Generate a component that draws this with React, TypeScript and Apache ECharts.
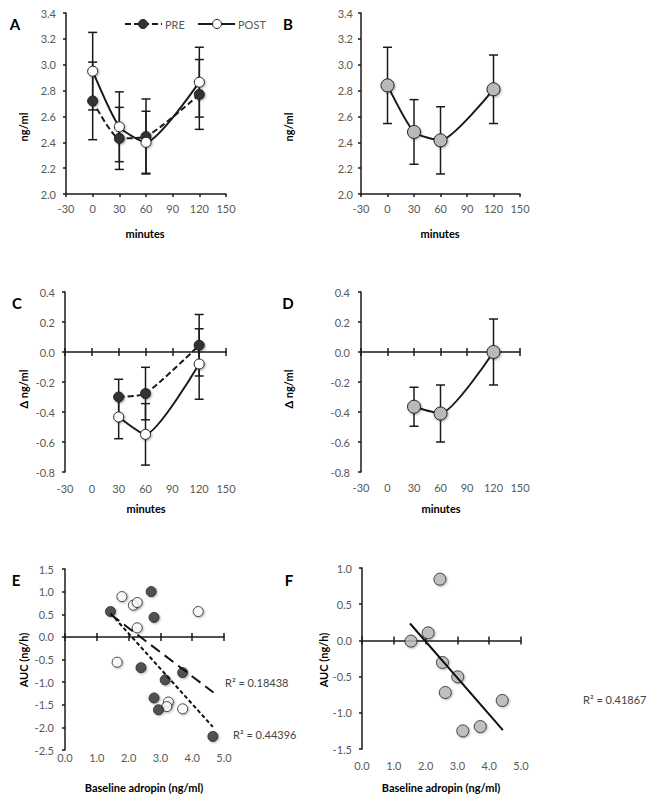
import React, { useEffect, useRef } from 'react';
import * as echarts from 'echarts';

// ---------- data ----------
const minutesA = [0, 30, 60, 120];
const preMeanA = [2.72, 2.43, 2.445, 2.77];
const preErrA = [0.3, 0.24, 0.29, 0.27];
const postMeanA = [2.95, 2.52, 2.4, 2.865];
const postErrA = [0.3, 0.27, 0.24, 0.27];

const meanB = [2.84, 2.48, 2.415, 2.81];
const errB = [0.295, 0.25, 0.26, 0.265];

const minutesC = [30, 60, 120];
const preMeanC = [-0.3, -0.277, 0.045];
const preErrC = [0.118, 0.175, 0.205];
const postMeanC = [-0.433, -0.549, -0.08];
const postErrC = [0.145, 0.205, 0.235];

const meanD = [-0.365, -0.41, 0.0];
const errD = [0.13, 0.19, 0.22];

const preAdropinE = [1.43, 2.71, 2.8, 2.39, 3.15, 3.7, 2.8, 2.94, 4.65];
const preAucE = [0.56, 1.0, 0.43, -0.68, -0.95, -0.79, -1.35, -1.61, -2.2];
const postAdropinE = [1.79, 2.15, 2.27, 2.27, 4.19, 1.64, 3.25, 3.2, 3.7];
const postAucE = [0.89, 0.7, 0.76, 0.2, 0.56, -0.56, -1.44, -1.54, -1.59];
const trendPreX = [1.43, 4.65];
const trendPreY = [0.52, -1.99];
const trendPostX = [1.43, 4.67];
const trendPostY = [0.5, -1.23];

const adropinF = [2.45, 2.08, 1.54, 2.53, 3.01, 2.62, 4.41, 3.72, 3.17];
const aucF = [0.845, 0.104, -0.01, -0.305, -0.503, -0.72, -0.83, -1.19, -1.25];
const trendFX = [1.51, 4.43];
const trendFY = [0.233, -1.24];

const r2PreE = 'R² = 0.44396';
const r2PostE = 'R² = 0.18438';
const r2F = 'R² = 0.41867';

const minuteTicks = { min: -30, max: 150, interval: 30 };
const aucTicks = { min: 0, max: 5, interval: 1 };

// ---------- styles ----------
const FONT = 'Lato, "Open Sans", sans-serif';
const AXIS = '#1a1a1a';
const LABEL = '#595959';
const DARK = '#333333';
const GRAY = '#b9b9b9';
const SMOOTH = 0.2;

const shadow = { shadowBlur: 2, shadowOffsetX: 1, shadowOffsetY: 1, shadowColor: 'rgba(0,0,0,0.35)' };

const errRender = (params: any, api: any) => {
  const x = api.value(0);
  const lo = api.coord([x, api.value(1)]);
  const hi = api.coord([x, api.value(2)]);
  const w = 4.5;
  const st = { stroke: AXIS, lineWidth: 1.5 };
  return {
    type: 'group',
    children: [
      { type: 'line', shape: { x1: lo[0], y1: lo[1], x2: hi[0], y2: hi[1] }, style: st },
      { type: 'line', shape: { x1: hi[0] - w, y1: hi[1], x2: hi[0] + w, y2: hi[1] }, style: st },
      { type: 'line', shape: { x1: lo[0] - w, y1: lo[1], x2: lo[0] + w, y2: lo[1] }, style: st },
    ],
  };
};

const errSeries = (xs: number[], m: number[], e: number[], xi: number, yi: number) => ({
  type: 'custom',
  xAxisIndex: xi,
  yAxisIndex: yi,
  renderItem: errRender,
  encode: { x: 0, y: [1, 2] },
  data: xs.map((x, i) => [x, m[i] - e[i], m[i] + e[i]]),
  z: 1,
  silent: true,
});

const meanLine = (
  xs: number[], m: number[], xi: number, yi: number,
  fill: string, dashed: boolean, size: number
) => ({
  type: 'line',
  xAxisIndex: xi,
  yAxisIndex: yi,
  data: xs.map((x, i) => [x, m[i]]),
  smooth: SMOOTH,
  symbol: 'circle',
  symbolSize: size,
  lineStyle: { color: AXIS, width: 2, type: dashed ? [6, 3] : 'solid' },
  itemStyle: { color: fill, borderColor: '#222', borderWidth: 1, ...shadow },
  z: 3,
});

const labelStyle = (margin: number) => ({
  color: LABEL,
  fontSize: 11,
  fontFamily: FONT,
  margin,
});

const yAxisDef = (grid: number, min: number, max: number, interval: number, margin: number) => ({
  type: 'value',
  gridIndex: grid,
  min,
  max,
  interval,
  axisLine: { show: true, onZero: false, lineStyle: { color: AXIS, width: 1.5 } },
  axisTick: { show: true, length: 3, lineStyle: { color: AXIS, width: 1.5 } },
  axisLabel: { ...labelStyle(margin), formatter: (v: number) => v.toFixed(1) },
  splitLine: { show: false },
});

const fmtX = (t: any) => (v: number) => (t.interval < 5 ? v.toFixed(1) : String(v));

const xBottomAxis = (grid: number, t: any, margin: number) => ({
  type: 'value',
  gridIndex: grid,
  position: 'bottom',
  min: t.min,
  max: t.max,
  interval: t.interval,
  axisLine: { show: true, onZero: false, lineStyle: { color: AXIS, width: 1.5 } },
  axisTick: { show: true, length: 3, lineStyle: { color: AXIS, width: 1.5 } },
  axisLabel: { ...labelStyle(margin), formatter: fmtX(t) },
  splitLine: { show: false },
});

// labels only at bottom
const xLabelAxis = (grid: number, t: any, margin: number) => ({
  type: 'value',
  gridIndex: grid,
  position: 'bottom',
  min: t.min,
  max: t.max,
  interval: t.interval,
  axisLine: { show: false, onZero: false },
  axisTick: { show: false },
  axisLabel: { ...labelStyle(margin), formatter: fmtX(t) },
  splitLine: { show: false },
});

// zero line with ticks (down or up)
const xZeroAxis = (grid: number, t: any, yIndex: number, inside: boolean, showLine: boolean) => ({
  type: 'value',
  gridIndex: grid,
  position: 'bottom',
  min: t.min,
  max: t.max,
  interval: t.interval,
  axisLine: { show: showLine, onZero: true, onZeroAxisIndex: yIndex, lineStyle: { color: AXIS, width: 1.5 } },
  axisTick: { show: true, inside, length: 4, lineStyle: { color: AXIS, width: 1.5 } },
  axisLabel: { show: false },
  splitLine: { show: false },
});

const text = (t: string, x: number, y: number, o: any = {}) => ({
  type: 'text',
  x,
  y,
  rotation: o.rotation || 0,
  style: {
    text: t,
    fill: o.fill || '#000',
    font: `${o.weight || 'normal'} ${o.size || 11}px ${FONT}`,
    textAlign: o.align || 'center',
    textVerticalAlign: 'middle',
  },
  z: 10,
});

export default function App() {
  const ref = useRef<HTMLDivElement>(null);
  useEffect(() => {
    if (!ref.current) return;
    const chart = echarts.init(ref.current, undefined, { renderer: 'svg' });
    const option: any = {
      animation: false,
      backgroundColor: '#ffffff',
      grid: [
        { left: 66, top: 13, width: 160, height: 181, outerBoundsMode: 'none' },
        { left: 361, top: 13, width: 159, height: 181, outerBoundsMode: 'none' },
        { left: 65, top: 292, width: 161, height: 180, outerBoundsMode: 'none' },
        { left: 361, top: 292, width: 159, height: 180, outerBoundsMode: 'none' },
        { left: 65, top: 569, width: 159, height: 181, outerBoundsMode: 'none' },
        { left: 362, top: 568, width: 159, height: 181, outerBoundsMode: 'none' },
      ],
      xAxis: [
        xBottomAxis(0, minuteTicks, 9), // 0 A
        xBottomAxis(1, minuteTicks, 9), // 1 B
        xLabelAxis(2, minuteTicks, 11), // 2 C labels
        xZeroAxis(2, minuteTicks, 2, false, true), // 3
        xZeroAxis(2, minuteTicks, 2, true, false), // 4
        xLabelAxis(3, minuteTicks, 10), // 5 D labels
        xZeroAxis(3, minuteTicks, 3, false, true), // 6
        xZeroAxis(3, minuteTicks, 3, true, false), // 7
        xLabelAxis(4, aucTicks, 2), // 8 E labels
        xZeroAxis(4, aucTicks, 4, false, true), // 9
        xZeroAxis(4, aucTicks, 4, true, false), // 10
        xLabelAxis(5, aucTicks, 11), // 11 F labels
        xZeroAxis(5, aucTicks, 5, false, true), // 12
        xZeroAxis(5, aucTicks, 5, true, false), // 13
      ],
      yAxis: [
        yAxisDef(0, 2.0, 3.4, 0.2, 10),
        yAxisDef(1, 2.0, 3.4, 0.2, 8),
        yAxisDef(2, -0.8, 0.4, 0.2, 10),
        yAxisDef(3, -0.8, 0.4, 0.2, 11),
        yAxisDef(4, -2.5, 1.5, 0.5, 11),
        yAxisDef(5, -1.5, 1.0, 0.5, 10),
      ],
      series: [
        // A
        errSeries(minutesA, preMeanA, preErrA, 0, 0),
        errSeries(minutesA, postMeanA, postErrA, 0, 0),
        meanLine(minutesA, preMeanA, 0, 0, DARK, true, 10),
        meanLine(minutesA, postMeanA, 0, 0, '#ffffff', false, 10),
        // B
        errSeries(minutesA, meanB, errB, 1, 1),
        meanLine(minutesA, meanB, 1, 1, GRAY, false, 13),
        // C
        errSeries(minutesC, preMeanC, preErrC, 2, 2),
        errSeries(minutesC, postMeanC, postErrC, 2, 2),
        meanLine(minutesC, preMeanC, 2, 2, DARK, true, 10),
        meanLine(minutesC, postMeanC, 2, 2, '#ffffff', false, 10),
        // D
        errSeries(minutesC, meanD, errD, 5, 3),
        meanLine(minutesC, meanD, 5, 3, GRAY, false, 13),
        // E
        {
          type: 'scatter', xAxisIndex: 8, yAxisIndex: 4, symbolSize: 10,
          data: postAdropinE.map((x, i) => [x, postAucE[i]]),
          itemStyle: { color: '#ffffff', borderColor: '#222', borderWidth: 1, ...shadow }, z: 3,
        },
        {
          type: 'scatter', xAxisIndex: 8, yAxisIndex: 4, symbolSize: 10,
          data: preAdropinE.map((x, i) => [x, preAucE[i]]),
          itemStyle: { color: DARK, borderColor: '#222', borderWidth: 1, ...shadow }, z: 3,
        },
        {
          type: 'line', xAxisIndex: 8, yAxisIndex: 4, symbol: 'none',
          data: trendPreX.map((x, i) => [x, trendPreY[i]]),
          lineStyle: { color: '#111', width: 2, type: [4, 2.5] }, z: 4,
        },
        {
          type: 'line', xAxisIndex: 8, yAxisIndex: 4, symbol: 'none',
          data: trendPostX.map((x, i) => [x, trendPostY[i]]),
          lineStyle: { color: '#111', width: 2, type: [11, 6] }, z: 4,
        },
        // F
        {
          type: 'scatter', xAxisIndex: 11, yAxisIndex: 5, symbolSize: 12,
          data: adropinF.map((x, i) => [x, aucF[i]]),
          itemStyle: { color: GRAY, borderColor: '#222', borderWidth: 1, ...shadow }, z: 3,
        },
        {
          type: 'line', xAxisIndex: 11, yAxisIndex: 5, symbol: 'none',
          data: trendFX.map((x, i) => [x, trendFY[i]]),
          lineStyle: { color: '#111', width: 2 }, z: 4,
        },
      ],
      graphic: [
        // panel letters
        text('A', 15, 24, { weight: 'bold', size: 15 }),
        text('B', 288, 24, { weight: 'bold', size: 15 }),
        text('C', 17, 303, { weight: 'bold', size: 15 }),
        text('D', 288, 303, { weight: 'bold', size: 15 }),
        text('E', 16, 580, { weight: 'bold', size: 15 }),
        text('F', 289, 580, { weight: 'bold', size: 15 }),
        // y titles
        text('ng/ml', 23, 127, { weight: 'bold', rotation: Math.PI / 2 }),
        text('ng/ml', 288, 127, { weight: 'bold', rotation: Math.PI / 2 }),
        text('Δ ng/ml', 23, 389, { weight: 'bold', rotation: Math.PI / 2 }),
        text('Δ ng/ml', 288, 389, { weight: 'bold', rotation: Math.PI / 2 }),
        text('AUC (ng/h)', 23, 660, { weight: 'bold', rotation: Math.PI / 2 }),
        text('AUC (ng/h)', 323, 660, { weight: 'bold', rotation: Math.PI / 2 }),
        // x titles
        text('minutes', 145, 233, { weight: 'bold' }),
        text('minutes', 440, 233, { weight: 'bold' }),
        text('minutes', 146, 508, { weight: 'bold' }),
        text('minutes', 441, 508, { weight: 'bold' }),
        text('Baseline adropin (ng/ml)', 144, 787, { weight: 'bold' }),
        text('Baseline adropin (ng/ml)', 441, 787, { weight: 'bold' }),
        // R2 labels
        text(r2PostE, 225, 682, { align: 'left', fill: '#444' }),
        text(r2PreE, 233, 734, { align: 'left', fill: '#444' }),
        text(r2F, 583, 699, { align: 'left', fill: '#444' }),
        // legend
        {
          type: 'line', shape: { x1: 125, y1: 24, x2: 162, y2: 24 },
          style: { stroke: AXIS, lineWidth: 2, lineDash: [6, 3] }, z: 10,
        },
        { type: 'circle', shape: { cx: 143, cy: 24, r: 4.5 }, style: { fill: DARK, stroke: '#222', lineWidth: 1 }, z: 11 },
        text('PRE', 165, 24, { align: 'left', fill: LABEL }),
        {
          type: 'line', shape: { x1: 198, y1: 24, x2: 235, y2: 24 },
          style: { stroke: AXIS, lineWidth: 2 }, z: 10,
        },
        { type: 'circle', shape: { cx: 217, cy: 24, r: 4.5 }, style: { fill: '#fff', stroke: '#222', lineWidth: 1 }, z: 11 },
        text('POST', 238, 24, { align: 'left', fill: LABEL }),
      ],
    };
    chart.setOption(option);
    return () => chart.dispose();
  }, []);
  return (
    <div
      ref={ref}
      style={{ position: 'fixed', left: 0, top: 0, width: 653, height: 801, background: '#fff' }}
    />
  );
}
